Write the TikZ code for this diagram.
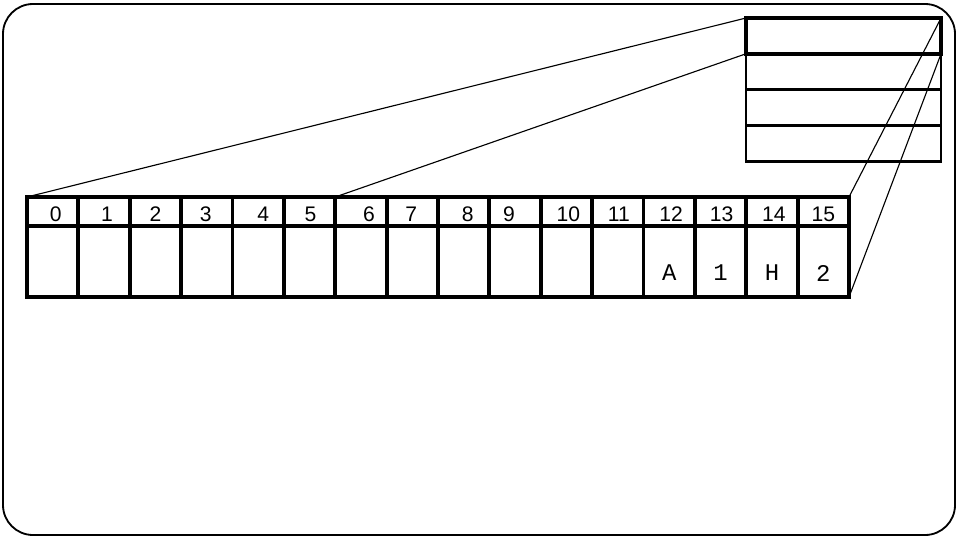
\documentclass[tikz,border=0pt]{standalone}
\usepackage{fontspec}
\setmainfont{Liberation Sans}
\newfontfamily\chrfont{Liberation Mono}
\usetikzlibrary{positioning}

\begin{document}
\begin{tikzpicture}[x=0.025cm,y=-0.025cm]
\tikzstyle{cell}=[rectangle,draw,line width=2.8pt,outer sep=0pt,inner sep=0pt,minimum width=1.284cm]
\tikzstyle{head}=[cell,minimum height=0.725cm]
\tikzstyle{body}=[cell,minimum height=1.775cm]
\tikzstyle{num}=[inner sep=0pt,font=\fontsize{15}{17}\selectfont]
\tikzstyle{chr}=[inner sep=0pt,font=\fontsize{17}{19}\selectfont\chrfont]
\tikzstyle{slot}=[rectangle,draw,line width=2pt,outer sep=0pt,minimum width=4.875cm,minimum height=0.894cm]
\tikzstyle{link}=[line width=0.8pt]
\useasboundingbox (0,0) rectangle (958,539);
\draw[line width=1.3pt,rounded corners=0.75cm] (3,4) rectangle (955,535);
\foreach \i in {0,...,15}{
  \node[head] (h\i) at ({52.7+51.375*\i},211.5) {};
  \node[body,below=0pt of h\i] (b\i) {};
}
\foreach \i/\dx in {0/3,1/3,2/0,3/-1,4/5,5/1,6/8,7/-1,8/4,9/-6,10/2,11/1,12/2,13/1,14/2,15/0}
  \node[num,xshift=\dx*0.025cm,yshift=-0.06cm] (n\i) at (h\i) {\i};
\foreach \i/\c in {12/A,13/1,14/H,15/2}
  \node[chr,yshift=-0.29cm] (c\i) at (b\i) {\c};
\draw[line width=3.5pt] (h0.north west) rectangle (b15.south east);
\draw[line width=3.5pt] (h0.north west) -- (h0.south west);
\node[slot] (s1) at (843.5,35.9) {};
\node[slot,below=0pt of s1] (s2) {};
\node[slot,below=0pt of s2] (s3) {};
\node[slot,below=0pt of s3] (s4) {};
\draw[line width=2.9pt] (s1.north west) rectangle (s1.south east);
\draw[link] (h0.north west) -- (s1.north west);
\draw[link] (h6.north west) -- (s2.north west);
\draw[link] (h15.north east) -- (s1.north east);
\draw[link] (b15.south east) -- (s2.north east);
\end{tikzpicture}
\end{document}
